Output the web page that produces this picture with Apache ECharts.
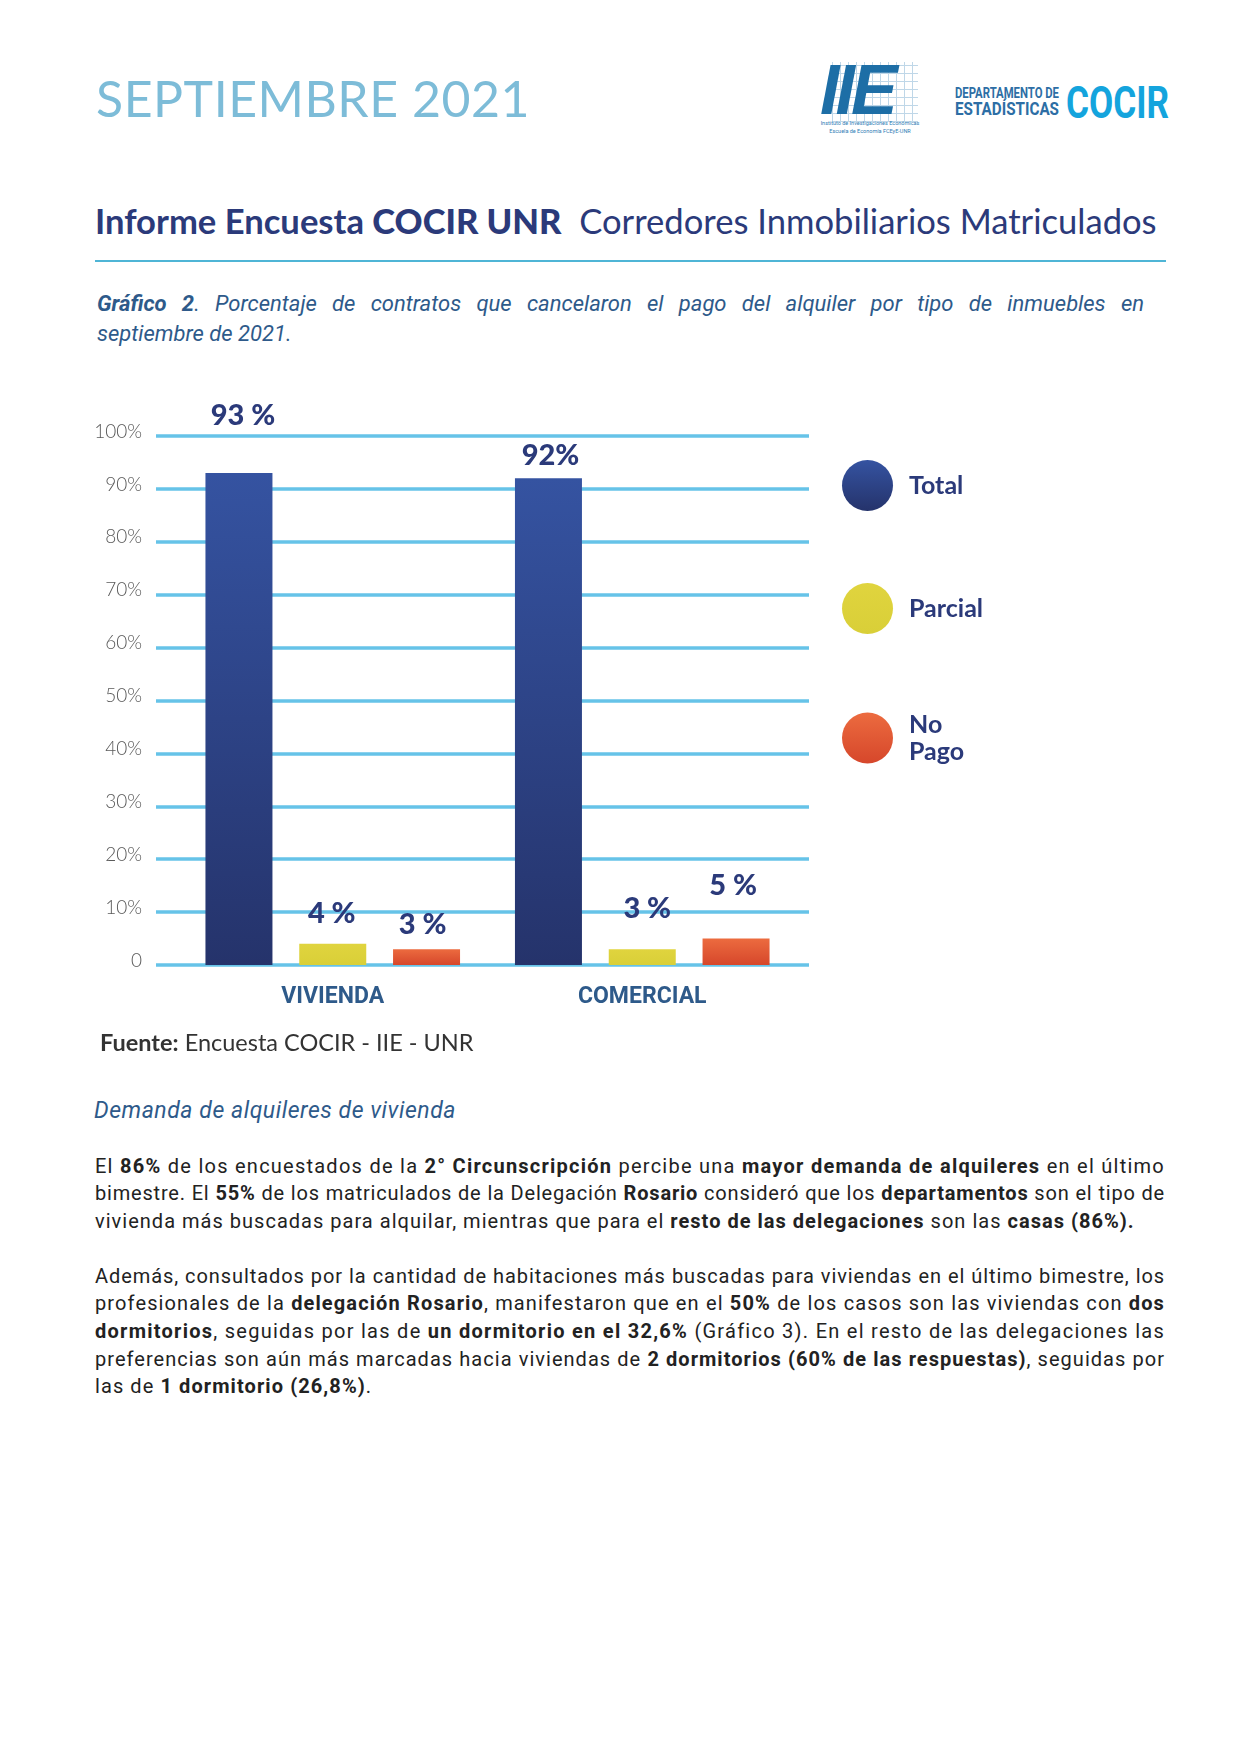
<!DOCTYPE html>
<html>
<head>
<meta charset="utf-8">
<script src="https://cdn.jsdelivr.net/npm/echarts@6/dist/echarts.min.js"></script>
<style>
  html, body { margin:0; padding:0; background:#fff; }
  body { width:1241px; height:1754px; position:relative; overflow:hidden; }
  .abs { position:absolute; white-space:nowrap; }
  .sept { left:96px; top:73px; font-family:Lato, sans-serif; font-size:50px; line-height:50px; color:#7dbcd8; font-weight:400; }
  .iie { left:820px; top:58px; width:100px; height:66px; }
  .iie .grid { position:absolute; left:12px; top:4px; width:86px; height:60px;
     background-image: repeating-linear-gradient(0deg, #b9d3e6 0 1px, transparent 1px 8px), repeating-linear-gradient(90deg, #b9d3e6 0 1px, transparent 1px 8px); opacity:.9; }
  .iie .txt { position:absolute; left:0; top:-8px; font-family:"Liberation Sans", Arial, sans-serif; font-weight:bold; font-style:italic; font-size:70px; line-height:80px; color:#1d6ea6; letter-spacing:-4px; }
  .iie-sub { left:820px; width:100px; text-align:center; font-family:Roboto, sans-serif; font-size:5.5px; color:#2f7db5; }
  .dep { font-family:Roboto, sans-serif; font-weight:bold; color:#2d6ea5; transform-origin:0 0; }
  .cocir { font-family:Roboto, sans-serif; font-weight:bold; color:#14a4dd; transform-origin:0 0; }
  .title { left:95px; top:203px; font-family:Lato, sans-serif; font-size:33px; line-height:33px; color:#2b3a7a; }
  .rule { left:95px; top:260px; width:1071px; height:2px; background:#4fb5d6; }
  .cap { left:97px; width:1047px; font-family:Roboto, sans-serif; font-style:italic; font-size:22px; line-height:22px; color:#2e5a8a; }
  .just { text-align:justify; text-align-last:justify; }
  .fuente { left:100px; top:1031px; font-family:Lato, sans-serif; font-size:23.5px; line-height:23.5px; color:#333; }
  .dem { left:94px; top:1099px; font-family:Roboto, sans-serif; font-style:italic; font-size:23px; line-height:23px; color:#2e5a8a; }
  .para { left:95px; width:1070px; font-family:Roboto, sans-serif; font-size:20px; line-height:27.7px; color:#222; }
  .para div { white-space:nowrap; }
  .para b { font-weight:bold; }
  #chart { position:absolute; left:0; top:380px; width:1241px; height:650px; }
</style>
</head>
<body>
<div class="abs sept" id="sept">SEPTIEMBRE 2021</div>

<div class="abs iie"><div class="grid"></div><div class="txt">IIE</div></div>
<div class="abs iie-sub" style="top:120px;">Instituto de Investigaciones Económicas</div>
<div class="abs iie-sub" style="top:128px;">Escuela de Economía FCEyE-UNR</div>

<div class="abs dep" id="dep1" style="left:955px; top:86px; font-size:15px; line-height:15px;">DEPARTAMENTO DE</div>
<div class="abs dep" id="dep2" style="left:955px; top:101px; font-size:17.5px; line-height:17.5px;">ESTADÍSTICAS</div>
<div class="abs cocir" id="cocir" style="left:1066px; top:80px; font-size:45px; line-height:45px;">COCIR</div>

<div class="abs title" id="title"><span style="font-weight:700">Informe Encuesta </span><span style="font-weight:900">COCIR UNR</span>&nbsp; Corredores Inmobiliarios Matriculados</div>
<div class="abs rule"></div>

<div class="abs cap just" style="top:293px;"><b>Gráfico 2</b>. Porcentaje de contratos que cancelaron el pago del alquiler por tipo de inmuebles en</div>
<div class="abs cap" style="top:323px;">septiembre de 2021.</div>

<div id="chart"></div>

<div class="abs fuente"><b>Fuente:</b> Encuesta COCIR - IIE - UNR</div>
<div class="abs dem" id="dem">Demanda de alquileres de vivienda</div>

<div class="abs para" id="p1" style="top:1152.5px;">
  <div class="just">El <b>86%</b> de los encuestados de la <b>2° Circunscripción</b> percibe una <b>mayor demanda de alquileres</b> en el último</div>
  <div class="just">bimestre. El <b>55%</b> de los matriculados de la Delegación <b>Rosario</b> consideró que los <b>departamentos</b> son el tipo de</div>
  <div>vivienda más buscadas para alquilar, mientras que para el <b>resto de las delegaciones</b> son las <b>casas (86%).</b></div>
</div>
<div class="abs para" id="p2" style="top:1262.5px;">
  <div class="just">Además, consultados por la cantidad de habitaciones más buscadas para viviendas en el último bimestre, los</div>
  <div class="just">profesionales de la <b>delegación Rosario</b>, manifestaron que en el <b>50%</b> de los casos son las viviendas con <b>dos</b></div>
  <div class="just"><b>dormitorios</b>, seguidas por las de <b>un dormitorio en el 32,6%</b> (Gráfico 3). En el resto de las delegaciones las</div>
  <div class="just">preferencias son aún más marcadas hacia viviendas de <b>2 dormitorios (60% de las respuestas)</b>, seguidas por</div>
  <div>las de <b>1 dormitorio (26,8%)</b>.</div>
</div>

<script>
// ---- data ----
const categories = ['VIVIENDA', 'COMERCIAL'];
const seriesNames = ['Total', 'Parcial', 'No Pago'];
const totalValues = [93, 92];
const parcialValues = [4, 3];
const noPagoValues = [3, 5];
const totalLabels = ['93 %', '92%'];
const parcialLabels = ['4 %', '3 %'];
const noPagoLabels = ['3 %', '5 %'];
const yTickValues = [0, 10, 20, 30, 40, 50, 60, 70, 80, 90, 100];
const yTickLabels = ['0', '10%', '20%', '30%', '40%', '50%', '60%', '70%', '80%', '90%', '100%'];

// ---- styling (not data) ----
const labelOffsets = {
  'Total':   [[4, -43], [2, -8]],
  'Parcial': [[-1, -16], [5, -26]],
  'No Pago': [[-4, -10], [-3, -38]]
};
const colors = {
  'Total': new echarts.graphic.LinearGradient(0, 0, 0, 1, [{offset:0, color:'#3553a1'}, {offset:1, color:'#25336b'}]),
  'Parcial': new echarts.graphic.LinearGradient(0, 0, 0, 1, [{offset:0, color:'#e0d43e'}, {offset:1, color:'#d9cf38'}]),
  'No Pago': new echarts.graphic.LinearGradient(0, 0, 0, 1, [{offset:0, color:'#ec6b3f'}, {offset:1, color:'#d6472b'}])
};

function buildSeries(name, values, labels) {
  return {
    name: name,
    type: 'bar',
    xAxisIndex: 1,
    yAxisIndex: 1,
    barWidth: 67,
    barGap: '40%',
    itemStyle: { color: colors[name] },
    label: {
      show: true,
      position: 'top',
      distance: 0,
      color: '#2b3a7a',
      fontFamily: 'Lato',
      fontWeight: 900,
      fontSize: 29
    },
    data: values.map((v, i) => ({
      value: v,
      label: { formatter: labels[i], offset: labelOffsets[name][i] }
    }))
  };
}

const chart = echarts.init(document.getElementById('chart'), null, { renderer: 'canvas' });
chart.setOption({
  animation: false,
  grid: [
    { left: 156, top: 56, width: 653, height: 529 },
    { left: 178, top: 56, width: 619, height: 529 }
  ],
  legend: {
    orient: 'vertical',
    left: 837,
    top: 75,
    icon: 'circle',
    itemWidth: 51,
    itemHeight: 51,
    itemGap: 72,
    data: seriesNames,
    formatter: n => n === 'No Pago' ? 'No\nPago' : n,
    textStyle: {
      color: '#2b3a7a',
      fontFamily: 'Lato',
      fontWeight: 'bold',
      fontSize: 25,
      lineHeight: 27,
      padding: [10, 0, 0, 11]
    }
  },
  xAxis: [
    { gridIndex: 0, type: 'category', data: categories, show: false },
    {
      gridIndex: 1, type: 'category', data: categories,
      axisLine: { show: false }, axisTick: { show: false },
      axisLabel: { color: '#2e5a8a', fontFamily: 'Roboto', fontWeight: 'bold', fontSize: 23, margin: 21 }
    }
  ],
  yAxis: [
    {
      gridIndex: 0, type: 'value', min: 0, max: 100, interval: 10,
      axisLine: { show: false }, axisTick: { show: false },
      axisLabel: {
        color: '#5a5a5a', fontFamily: 'Lato', fontWeight: 300, fontSize: 19, margin: 14,
        verticalAlign: 'bottom', lineHeight: 9,
        formatter: v => yTickLabels[yTickValues.indexOf(v)]
      },
      splitLine: { show: true, lineStyle: { color: '#66c3e8', width: 3.5 } }
    },
    { gridIndex: 1, type: 'value', min: 0, max: 100, interval: 10, show: false, splitLine: { show: false } }
  ],
  series: [
    buildSeries('Total', totalValues, totalLabels),
    buildSeries('Parcial', parcialValues, parcialLabels),
    buildSeries('No Pago', noPagoValues, noPagoLabels)
  ]
});

// ---- fit header / text widths ----
function naturalWidth(el) {
  const old = el.style.display;
  el.style.display = 'inline-block';
  const w = el.getBoundingClientRect().width;
  el.style.display = old;
  return w;
}
function fitScale(id, w) {
  const el = document.getElementById(id);
  const nat = el.getBoundingClientRect().width;
  el.style.transform = 'scaleX(' + (w / nat) + ')';
}
function fitLetter(id, w) {
  const el = document.getElementById(id);
  const nat = el.getBoundingClientRect().width;
  const n = el.textContent.length;
  el.style.letterSpacing = ((w - nat) / n) + 'px';
}
fitScale('dep1', 104);
fitScale('dep2', 104);
fitScale('cocir', 103);
fitLetter('sept', 434);
fitLetter('dem', 362);

(function fitTitle() {
  const el = document.getElementById('title');
  const nat = el.getBoundingClientRect().width;
  const fs = 33 * 1062 / nat;
  el.style.fontSize = fs + 'px';
  el.style.lineHeight = fs + 'px';
  el.style.top = (234.5 - 0.887 * fs) + 'px';
})();

['p1', 'p2'].forEach(pid => {
  const lines = Array.from(document.querySelectorAll('#' + pid + ' div'));
  let sum = 0, cnt = 0;
  lines.forEach(d => {
    if (d.classList.contains('just')) {
      const nat = naturalWidth(d);
      const n = d.textContent.length;
      const ls = (1068 - nat) / n;
      d.style.letterSpacing = ls + 'px';
      sum += ls; cnt++;
    }
  });
  const avg = cnt ? sum / cnt : 0;
  lines.forEach(d => { if (!d.classList.contains('just')) d.style.letterSpacing = avg + 'px'; });
});
</script>
</body>
</html>
